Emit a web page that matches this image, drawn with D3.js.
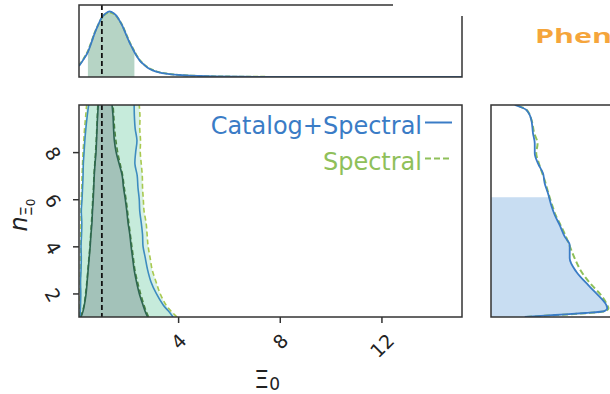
<!DOCTYPE html>
<html>
<head>
<meta charset="utf-8">
<script src="https://cdn.jsdelivr.net/npm/d3@7"></script>
<style>
  html, body { margin: 0; padding: 0; background: #fff; overflow: hidden; }
  svg { display: block; }
</style>
</head>
<body>
<svg id="fig" width="610" height="394"></svg>
<script>
// ---- 2-D credible contours: for each n level, the left/right Xi_0 edge ----
const nLevels   = [1.0, 1.25, 1.5, 2.0, 2.5, 3.0, 3.5, 4.0, 4.5, 5.0, 5.5, 6.0, 6.5, 7.0, 7.5, 8.0, 8.5, 9.0, 9.5, 10.0];

// Catalog+Spectral
const catOuterL = [0.14, 0.15, 0.16, 0.17, 0.16, 0.18, 0.19, 0.18, 0.20, 0.21, 0.19, 0.22, 0.24, 0.26, 0.27, 0.30, 0.33, 0.37, 0.42, 0.48];
const catOuterR = [3.80, 3.62, 3.42, 3.14, 2.93, 2.80, 2.71, 2.62, 2.60, 2.55, 2.49, 2.47, 2.42, 2.39, 2.30, 2.33, 2.38, 2.31, 2.28, 2.27];
const catInnerL = [0.18, 0.26, 0.31, 0.38, 0.42, 0.46, 0.50, 0.54, 0.57, 0.61, 0.63, 0.66, 0.68, 0.70, 0.73, 0.77, 0.79, 0.81, 0.83, 0.86];
const catInnerR = [2.80, 2.70, 2.62, 2.47, 2.36, 2.27, 2.21, 2.15, 2.10, 2.03, 1.98, 1.92, 1.85, 1.80, 1.68, 1.56, 1.49, 1.46, 1.44, 1.40];

// Spectral only
const spcOuterL = [0.12, 0.13, 0.14, 0.15, 0.15, 0.16, 0.16, 0.17, 0.17, 0.18, 0.18, 0.19, 0.21, 0.22, 0.24, 0.26, 0.29, 0.32, 0.36, 0.40];
const spcOuterR = [3.96, 3.72, 3.53, 3.29, 3.13, 2.98, 2.90, 2.82, 2.78, 2.74, 2.66, 2.63, 2.60, 2.59, 2.55, 2.51, 2.52, 2.49, 2.50, 2.47];
const spcInnerL = [0.16, 0.24, 0.30, 0.36, 0.41, 0.45, 0.49, 0.53, 0.56, 0.59, 0.62, 0.64, 0.67, 0.69, 0.72, 0.75, 0.78, 0.80, 0.82, 0.84];
const spcInnerR = [2.84, 2.74, 2.66, 2.52, 2.40, 2.30, 2.24, 2.18, 2.12, 2.06, 2.01, 1.95, 1.88, 1.82, 1.72, 1.62, 1.55, 1.50, 1.47, 1.44];

// ---- 1-D marginal of Xi_0 (normalised density) ----
const xiGrid    = [0.1, 0.3, 0.45, 0.6, 0.71, 0.85, 0.97, 1.1, 1.23, 1.3, 1.4, 1.56, 1.7, 1.83, 1.95, 2.08, 2.2, 2.35, 2.5, 2.61, 2.8, 3.0, 3.25, 3.53, 3.85, 4.18, 4.5, 4.83, 5.5, 6.5, 8.0, 10.0, 12.0, 15.17];
const catXiPdf  = [0.153, 0.255, 0.347, 0.49, 0.601, 0.72, 0.81, 0.87, 0.903, 0.912, 0.90, 0.857, 0.78, 0.694, 0.59, 0.486, 0.40, 0.301, 0.225, 0.185, 0.13, 0.093, 0.065, 0.046, 0.033, 0.024, 0.018, 0.014, 0.008, 0.004, 0.001, 0.0, 0.0, 0.0];
const spcXiPdf  = [0.160, 0.265, 0.360, 0.50, 0.610, 0.72, 0.805, 0.86, 0.890, 0.895, 0.89, 0.850, 0.78, 0.700, 0.60, 0.495, 0.41, 0.310, 0.232, 0.190, 0.135, 0.097, 0.068, 0.048, 0.034, 0.025, 0.019, 0.014, 0.008, 0.004, 0.001, 0.0, 0.0, 0.0];
const xiInterval = [0.45, 2.28];

// ---- 1-D marginal of n_Xi0 (normalised density) ----
const nGrid     = [1.0, 1.06, 1.11, 1.17, 1.25, 1.37, 1.51, 1.93, 2.36, 2.92, 3.49, 4.06, 4.41, 4.90, 5.33, 5.71, 6.25, 6.67, 7.10, 7.52, 7.95, 8.37, 8.80, 9.36, 9.79, 10.0];
const catNPdf   = [0.25, 0.40, 0.55, 0.70, 0.84, 0.861, 0.854, 0.793, 0.719, 0.632, 0.583, 0.583, 0.546, 0.509, 0.472, 0.448, 0.422, 0.398, 0.385, 0.348, 0.324, 0.324, 0.311, 0.299, 0.261, 0.176];
const spcNPdf   = [0.26, 0.42, 0.57, 0.72, 0.85, 0.870, 0.860, 0.815, 0.745, 0.670, 0.620, 0.580, 0.555, 0.515, 0.478, 0.455, 0.425, 0.405, 0.380, 0.355, 0.335, 0.345, 0.320, 0.300, 0.265, 0.180];
const nUpper    = 6.08;

// ---- axes ----
const xTicks = [4, 8, 12];
const yTicks = [2, 4, 6, 8];
const xiTrue = 1.0;
const seriesNames = ["Catalog+Spectral", "Spectral"];

// ---------------------------------------------------------------
const FONT = "'DejaVu Sans', sans-serif";
const INK = "#333";
const BLUE = "#3a7cc6";
const GREEN = "#8fc05a";

const svg = d3.select("#fig");

const main = { left: 79, right: 462, top: 105, bottom: 317 };
const topP = { left: 79, right: 462, top: 5, bottom: 77 };
const side = { left: 491, right: 626, top: 105, bottom: 317 };

const x = d3.scaleLinear().domain([0.1, 15.17]).range([main.left, main.right]);
const y = d3.scaleLinear().domain([1, 10]).range([main.bottom, main.top]);
const yTop = d3.scaleLinear().domain([0, 1]).range([topP.bottom, topP.top]);
const xSide = d3.scaleLinear().domain([0, 1]).range([side.left, side.right]);

const defs = svg.append("defs");
function clip(id, p) {
  defs.append("clipPath").attr("id", id).append("rect")
    .attr("x", p.left).attr("y", p.top)
    .attr("width", p.right - p.left).attr("height", p.bottom - p.top);
}
clip("clipMain", main); clip("clipTop", topP); clip("clipSide", side);

// ================= main 2-D panel =================
const gMain = svg.append("g").attr("clip-path", "url(#clipMain)");

const band = (L, R) => nLevels.map((n, i) => ({ n, l: L[i], r: R[i] }));
const edge = arr => nLevels.map((n, i) => ({ n, v: arr[i] }));

const bandArea = d3.area()
  .curve(d3.curveCatmullRom.alpha(0.5))
  .y(d => y(d.n)).x0(d => x(d.l)).x1(d => x(d.r));
const edgeLine = d3.line()
  .curve(d3.curveCatmullRom.alpha(0.5))
  .x(d => x(d.v)).y(d => y(d.n));

const series = [
  { oL: spcOuterL, oR: spcOuterR, iL: spcInnerL, iR: spcInnerR, outer: "#a9c94f", inner: "#4c8640", dash: "5,3" },
  { oL: catOuterL, oR: catOuterR, iL: catInnerL, iR: catInnerR, outer: "#3d8cbf", inner: "#2d6650", dash: null }
];

series.forEach(s => {
  gMain.append("path").datum(band(s.oL, s.oR)).attr("d", bandArea)
    .attr("fill", "rgb(184,230,210)").attr("fill-opacity", 0.55);
});
series.forEach(s => {
  gMain.append("path").datum(band(s.iL, s.iR)).attr("d", bandArea)
    .attr("fill", "rgb(155,184,176)").attr("fill-opacity", 0.55);
});
series.forEach(s => {
  [[s.oL, s.outer], [s.oR, s.outer], [s.iL, s.inner], [s.iR, s.inner]].forEach(([arr, col]) => {
    gMain.append("path").datum(edge(arr)).attr("d", edgeLine)
      .attr("fill", "none").attr("stroke", col).attr("stroke-width", 1.6)
      .attr("stroke-dasharray", s.dash);
  });
});

// true value
gMain.append("line")
  .attr("x1", x(xiTrue)).attr("x2", x(xiTrue))
  .attr("y1", main.top).attr("y2", main.bottom)
  .attr("stroke", "#111").attr("stroke-width", 1.8).attr("stroke-dasharray", "5,3");

// axes
const xAxis = svg.append("g").attr("transform", `translate(0,${main.bottom})`)
  .call(d3.axisBottom(x).tickValues(xTicks).tickSize(6).tickPadding(0).tickFormat(d3.format("d")));
const yAxis = svg.append("g").attr("transform", `translate(${main.left},0)`)
  .call(d3.axisLeft(y).tickValues(yTicks).tickSize(6).tickPadding(0).tickFormat(d3.format("d")));
[xAxis, yAxis].forEach(g => {
  g.select(".domain").remove();
  g.selectAll(".tick line").attr("stroke", INK).attr("stroke-width", 1.5);
  g.selectAll(".tick text").attr("font-family", FONT).attr("font-size", 19)
    .attr("fill", "#222").attr("text-anchor", "middle")
    .attr("dominant-baseline", "central").attr("dy", null).attr("x", 0).attr("y", 0);
});
xAxis.selectAll(".tick text").each(function () {
  const w = this.getComputedTextLength();
  const h = 0.73 * 19;
  const half = (w + h) * 0.3536;
  d3.select(this).attr("transform", `translate(0,${15 + half}) rotate(-45)`);
});
yAxis.selectAll(".tick text").attr("transform", "translate(-26,1) rotate(60)");

svg.append("rect")
  .attr("x", main.left).attr("y", main.top)
  .attr("width", main.right - main.left).attr("height", main.bottom - main.top)
  .attr("fill", "none").attr("stroke", INK).attr("stroke-width", 1.5);

// legend
const legend = [
  { name: seriesNames[0], color: BLUE, dash: null, y: 134 },
  { name: seriesNames[1], color: GREEN, dash: "6,3", y: 170 }
];
legend.forEach(l => {
  svg.append("text").attr("x", 422).attr("y", l.y)
    .attr("text-anchor", "end").attr("font-family", FONT).attr("font-size", 24)
    .attr("fill", l.color).text(l.name);
  svg.append("line").attr("x1", 425).attr("x2", 452)
    .attr("y1", l.y - 11.5).attr("y2", l.y - 11.5)
    .attr("stroke", l.color).attr("stroke-width", 2)
    .attr("stroke-dasharray", l.dash);
});

// axis titles
const xl = svg.append("text").attr("x", 267).attr("y", 388)
  .attr("text-anchor", "middle").attr("font-family", FONT).attr("fill", "#222");
xl.append("tspan").attr("font-size", 24).text("Ξ");
xl.append("tspan").attr("font-size", 17).attr("dy", 2).text("0");

const yl = svg.append("text").attr("transform", "translate(27,215) rotate(-90)")
  .attr("text-anchor", "middle").attr("font-family", FONT).attr("fill", "#222");
yl.append("tspan").attr("font-size", 24).attr("font-style", "italic").text("n");
yl.append("tspan").attr("font-size", 16).attr("dy", 5).text("Ξ");
yl.append("tspan").attr("font-size", 12).attr("dy", 3).text("0");

// ================= top 1-D panel (Xi_0) =================
const gTop = svg.append("g").attr("clip-path", "url(#clipTop)");
const xiPts = arr => xiGrid.map((v, i) => ({ v, p: arr[i] }));
const topLine = d3.line().curve(d3.curveMonotoneX).x(d => x(d.v)).y(d => yTop(d.p));
const topArea = d3.area().curve(d3.curveMonotoneX).x(d => x(d.v)).y0(yTop(0)).y1(d => yTop(d.p));

const interpXi = v => {
  const i = d3.bisectLeft(xiGrid, v);
  if (i <= 0) return catXiPdf[0];
  const t = (v - xiGrid[i - 1]) / (xiGrid[i] - xiGrid[i - 1]);
  return catXiPdf[i - 1] + t * (catXiPdf[i] - catXiPdf[i - 1]);
};
const shadePts = [{ v: xiInterval[0], p: interpXi(xiInterval[0]) }]
  .concat(xiPts(catXiPdf).filter(d => d.v > xiInterval[0] && d.v < xiInterval[1]))
  .concat([{ v: xiInterval[1], p: interpXi(xiInterval[1]) }]);
gTop.append("path").datum(shadePts).attr("d", topArea).attr("fill", "#b6d4c5");

gTop.append("path").datum(xiPts(spcXiPdf)).attr("d", topLine)
  .attr("fill", "none").attr("stroke", GREEN).attr("stroke-width", 2).attr("stroke-dasharray", "5,2");
gTop.append("path").datum(xiPts(catXiPdf)).attr("d", topLine)
  .attr("fill", "none").attr("stroke", BLUE).attr("stroke-width", 1.8);
gTop.append("line")
  .attr("x1", x(xiTrue)).attr("x2", x(xiTrue)).attr("y1", topP.top).attr("y2", topP.bottom)
  .attr("stroke", "#111").attr("stroke-width", 1.8).attr("stroke-dasharray", "5,3");

svg.append("rect")
  .attr("x", topP.left).attr("y", topP.top)
  .attr("width", topP.right - topP.left).attr("height", topP.bottom - topP.top)
  .attr("fill", "none").attr("stroke", INK).attr("stroke-width", 1.5);

// ================= side 1-D panel (n_Xi0) =================
const gSide = svg.append("g").attr("clip-path", "url(#clipSide)");
const nPts = arr => nGrid.map((n, i) => ({ n, p: arr[i] }));
const sideLine = d3.line().curve(d3.curveMonotoneY).x(d => xSide(d.p)).y(d => y(d.n));
const sideArea = d3.area().curve(d3.curveMonotoneY).y(d => y(d.n)).x0(xSide(0)).x1(d => xSide(d.p));

const interpN = n => {
  const i = d3.bisectLeft(nGrid, n);
  const t = (n - nGrid[i - 1]) / (nGrid[i] - nGrid[i - 1]);
  return catNPdf[i - 1] + t * (catNPdf[i] - catNPdf[i - 1]);
};
const sideShade = nPts(catNPdf).filter(d => d.n < nUpper).concat([{ n: nUpper, p: interpN(nUpper) }]);
gSide.append("path").datum(sideShade).attr("d", sideArea).attr("fill", "#c8ddf2");

gSide.append("path").datum(nPts(spcNPdf)).attr("d", sideLine)
  .attr("fill", "none").attr("stroke", GREEN).attr("stroke-width", 2).attr("stroke-dasharray", "6,3");
gSide.append("path").datum(nPts(catNPdf)).attr("d", sideLine)
  .attr("fill", "none").attr("stroke", BLUE).attr("stroke-width", 1.8);

svg.append("rect")
  .attr("x", side.left).attr("y", side.top)
  .attr("width", side.right - side.left).attr("height", side.bottom - side.top)
  .attr("fill", "none").attr("stroke", INK).attr("stroke-width", 1.5);

// white band over the upper-right corner of the top panel
svg.append("rect").attr("x", 393).attr("y", 0).attr("width", 217).attr("height", 16).attr("fill", "#fff");

// heading at the top right
svg.append("text").attr("transform", "translate(535,43) scale(1.6,1)")
  .attr("font-family", "'Open Sans', sans-serif").attr("font-weight", 700)
  .attr("font-size", 19).attr("fill", "#f5a53b").text("Phenomenology");
</script>
</body>
</html>
